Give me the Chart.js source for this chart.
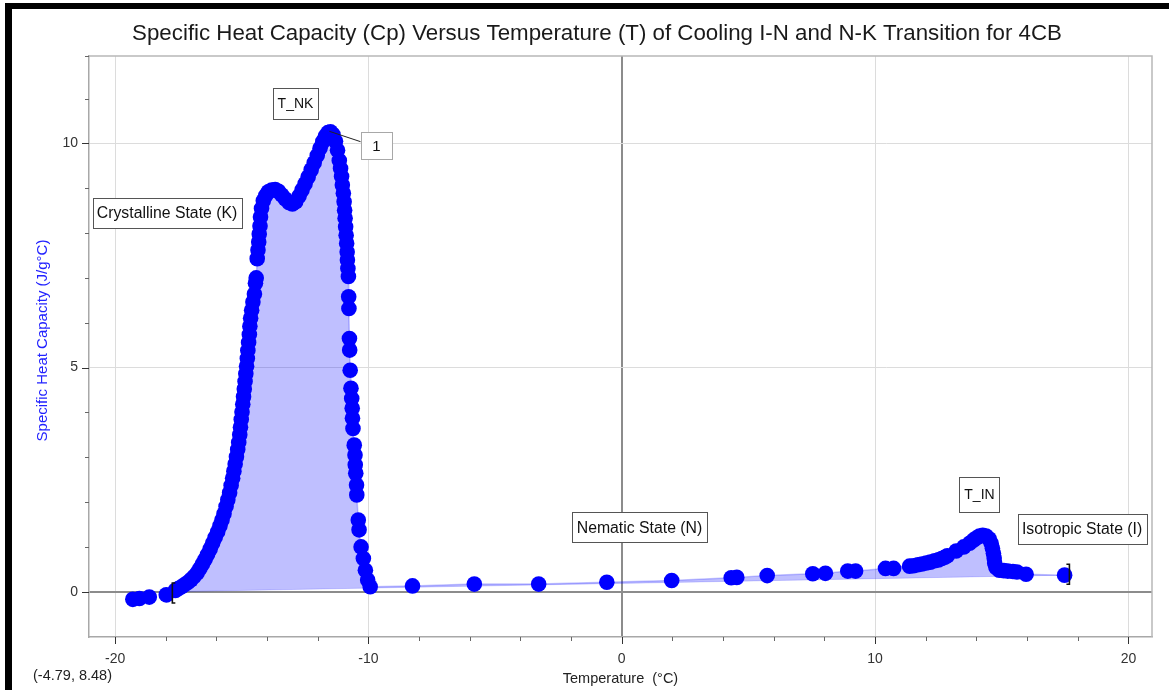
<!DOCTYPE html>
<html>
<head>
<meta charset="utf-8">
<script src="https://cdn.jsdelivr.net/npm/chart.js@4.4.1/dist/chart.umd.min.js"></script>
<style>
html,body{margin:0;padding:0;background:#fff;}
#wrap{position:relative;width:1169px;height:690px;}
canvas{display:block;}
</style>
</head>
<body>
<div id="wrap"><canvas id="c" width="1169" height="690"></canvas></div>
<script>
// ---- data (Temperature °C, Cp J/g°C) ----
const tempC = [
  -19.30,-19.04,-18.65,-17.98,
  -17.62,-17.50,-17.38,-17.25,-17.12,-17.00,-16.88,-16.76,-16.65,-16.55,-16.45,-16.35,-16.25,-16.15,-16.05,-15.95,
  -15.86,-15.78,-15.70,-15.62,-15.55,-15.48,-15.42,-15.36,-15.31,-15.26,-15.21,-15.16,-15.12,-15.08,-15.05,-15.02,
  -14.99,-14.96,-14.93,-14.90,-14.87,-14.84,-14.81,-14.78,-14.76,-14.73,-14.70,-14.68,-14.65,-14.61,-14.56,-14.50,
  -14.46,-14.43,-14.39,-14.36,-14.33,-14.31,-14.28,-14.26,-14.22,-14.15,-14.05,-13.95,-13.82,-13.68,-13.55,-13.42,
  -13.28,-13.14,-13.00,-12.87,-12.74,-12.62,-12.50,-12.38,-12.26,-12.14,-12.02,-11.91,-11.80,-11.70,-11.60,-11.50,
  -11.40,-11.30,-11.22,-11.15,-11.10,-11.06,-11.03,-10.99,-10.96,-10.94,-10.92,-10.90,-10.88,-10.86,-10.84,-10.83,
  -10.81,-10.79,-10.78,-10.77,-10.75,-10.74,-10.72,-10.69,-10.66,-10.64,-10.63,-10.61,-10.56,-10.53,-10.52,-10.50,
  -10.47,-10.46,-10.40,-10.37,-10.29,-10.20,-10.12,-10.03,-9.93,
  -8.26,-5.82,-3.28,-0.59,1.97,4.32,4.54,5.74,7.54,8.04,8.92,9.23,10.41,10.73,
  11.36,11.52,11.69,11.85,12.02,12.18,12.35,12.50,12.63,12.75,12.85,13.20,13.50,13.73,13.88,14.00,14.12,14.25,
  14.38,14.50,14.58,14.63,14.67,14.70,14.72,14.77,14.90,15.08,15.24,15.44,15.60,15.96,17.48
];
const cpJ = [
  -0.17,-0.15,-0.12,-0.07,
  0.03,0.07,0.11,0.16,0.21,0.27,0.34,0.42,0.52,0.62,0.72,0.83,0.95,1.08,1.21,1.34,
  1.47,1.60,1.74,1.90,2.05,2.21,2.37,2.53,2.69,2.85,3.01,3.17,3.33,3.50,3.67,3.84,
  4.01,4.18,4.35,4.52,4.69,4.86,5.03,5.20,5.38,5.56,5.74,5.92,6.10,6.28,6.46,6.64,
  6.88,7.00,7.43,7.62,7.80,7.98,8.16,8.36,8.55,8.72,8.84,8.92,8.96,8.97,8.93,8.85,
  8.76,8.68,8.65,8.70,8.82,8.96,9.10,9.25,9.41,9.57,9.73,9.89,10.04,10.16,10.24,10.26,
  10.20,10.05,9.85,9.62,9.44,9.26,9.07,8.89,8.70,8.51,8.33,8.14,7.95,7.77,7.58,7.40,
  7.21,7.03,6.58,6.32,5.65,5.39,4.94,4.54,4.31,4.09,3.87,3.64,3.27,3.05,2.83,2.64,
  2.38,2.16,1.60,1.38,1.00,0.74,0.48,0.26,0.11,
  0.13,0.17,0.17,0.21,0.25,0.31,0.32,0.36,0.40,0.41,0.46,0.46,0.52,0.52,
  0.57,0.58,0.60,0.62,0.64,0.66,0.69,0.71,0.74,0.77,0.80,0.91,1.00,1.08,1.15,1.20,1.24,1.26,
  1.24,1.18,1.08,0.97,0.86,0.75,0.64,0.54,0.48,0.47,0.46,0.45,0.44,0.39,0.37
];
// integral region (between the brackets) and its straight baseline
const integralRangeT = [-17.74, 17.48];
const baselineT = [-17.74, 17.50];
const baselineCp = [0.00, 0.37];
const bracketT = [-17.74, 17.67];
const bracketCp = [-0.03, 0.39];
// text labels placed in data coordinates
const noteText = ["T_NK", "1", "Crystalline State (K)", "Nematic State (N)", "T_IN", "Isotropic State (I)"];
const noteT = [-12.88, -9.68, -17.95, 0.70, 14.12, 18.17];
const noteCp = [10.89, 9.95, 8.45, 1.44, 2.17, 1.40];
const leaderFromT = -11.54, leaderFromCp = 10.27;
const readout = "(-4.79, 8.48)";
const titleText = "Specific Heat Capacity (Cp) Versus Temperature (T) of Cooling I-N and N-K Transition for 4CB";
const yTitleText = "Specific Heat Capacity (J/g°C)";
const xTitleText = "Temperature  (°C)";

// box styling per note (font size, horizontal padding, height)
const noteFont = [14, 15, 15.8, 15.8, 14, 15.8];
const notePadX = [4.5, 11.5, 4.5, 4.5, 5, 4.5];
const noteBoxH = [31, 27, 30, 30, 35, 30];

// ---- build datasets from arrays ----
const allPts = tempC.map((t, i) => ({x: t, y: cpJ[i]}));
const integralPts = allPts.filter(p => p.x >= integralRangeT[0] && p.x <= integralRangeT[1]);
const basePts = baselineT.map((t, i) => ({x: t, y: baselineCp[i]}));

const FONT = "'Liberation Sans', Arial, Helvetica, sans-serif";

const decor = {
  id: 'decor',
  beforeDraw(chart) {
    const c = chart.ctx;
    c.save(); c.fillStyle = '#fff'; c.fillRect(0, 0, chart.width, chart.height); c.restore();
  },
  afterDraw(chart) {
    const c = chart.ctx, a = chart.chartArea, xs = chart.scales.x, ys = chart.scales.y;
    c.save();
    // top / right frame
    c.strokeStyle = '#b8b8b8'; c.lineWidth = 1.5;
    c.beginPath(); c.moveTo(a.left, a.top); c.lineTo(a.right, a.top); c.lineTo(a.right, a.bottom); c.stroke();
    // tick marks
    c.lineWidth = 1;
    xs.ticks.forEach(t => {
      if (t.value < xs.min || t.value > xs.max) return;
      const px = Math.round(xs.getPixelForValue(t.value)) + 0.5;
      const major = t.value % 10 === 0;
      c.strokeStyle = major ? '#333' : '#666';
      c.beginPath(); c.moveTo(px, a.bottom); c.lineTo(px, a.bottom + (major ? 7 : 4)); c.stroke();
    });
    ys.ticks.forEach(t => {
      if (t.value <= ys.min || t.value > ys.max) return;
      const py = Math.round(ys.getPixelForValue(t.value)) + 0.5;
      const major = t.value % 5 === 0;
      c.strokeStyle = major ? '#333' : '#666';
      c.beginPath(); c.moveTo(a.left, py); c.lineTo(a.left - (major ? 7 : 4), py); c.stroke();
    });
    // brackets
    c.strokeStyle = '#111'; c.lineWidth = 1.6;
    bracketT.forEach((t, i) => {
      const px = xs.getPixelForValue(t), py = ys.getPixelForValue(bracketCp[i]);
      const dir = i === 0 ? 1 : -1;
      c.beginPath();
      c.moveTo(px + dir * 3, py - 10); c.lineTo(px, py - 10); c.lineTo(px, py + 10); c.lineTo(px + dir * 3, py + 10);
      c.stroke();
    });
    // leader line for "1"
    const bx = xs.getPixelForValue(noteT[1]), by = ys.getPixelForValue(noteCp[1]);
    c.strokeStyle = '#222'; c.lineWidth = 1;
    c.beginPath(); c.moveTo(xs.getPixelForValue(leaderFromT), ys.getPixelForValue(leaderFromCp));
    c.lineTo(bx - 16, by - 4); c.stroke();
    // annotation boxes
    c.textAlign = 'center'; c.textBaseline = 'middle';
    noteText.forEach((s, i) => {
      c.font = noteFont[i] + 'px ' + FONT;
      const px = xs.getPixelForValue(noteT[i]), py = ys.getPixelForValue(noteCp[i]);
      const w = Math.round(c.measureText(s).width + 2 * notePadX[i]);
      const h = noteBoxH[i];
      const x0 = Math.round(px - w / 2) + 0.5, y0 = Math.round(py - h / 2) + 0.5;
      c.fillStyle = '#fff'; c.fillRect(x0, y0, w, h);
      c.strokeStyle = s === '1' ? '#a8a8a8' : '#555'; c.lineWidth = 1;
      c.strokeRect(x0, y0, w, h);
      c.fillStyle = '#111'; c.fillText(s, px, py + 1);
    });
    // y axis title
    c.save();
    c.translate(43, (a.top + a.bottom) / 2 - 6);
    c.rotate(-Math.PI / 2);
    c.font = '15px ' + FONT; c.fillStyle = '#2222ff'; c.textAlign = 'center'; c.textBaseline = 'middle';
    c.fillText(yTitleText, 0, 0);
    c.restore();
    // coordinate readout
    c.font = '14.5px ' + FONT; c.textAlign = 'left'; c.textBaseline = 'middle'; c.fillStyle = '#222';
    c.fillText(readout, 33, 676);
    // title
    c.font = '22.3px ' + FONT; c.textAlign = 'center'; c.fillStyle = '#1a1a1a';
    c.fillText(titleText, 597, 34);
    // black border of the screenshot
    c.fillStyle = '#000';
    c.fillRect(5, 3, chart.width - 5, 6);
    c.fillRect(5, 3, 7, chart.height - 3);
    c.restore();
  }
};

new Chart(document.getElementById('c'), {
  type: 'scatter',
  data: {
    datasets: [
      {
        label: 'Cp',
        data: allPts,
        pointRadius: 7.8,
        pointHoverRadius: 7.8,
        pointBackgroundColor: '#0000ff',
        pointBorderWidth: 0,
        showLine: false,
        order: 0
      },
      {
        type: 'line',
        label: 'integral',
        data: integralPts,
        borderColor: 'rgba(0,0,255,0.22)',
        borderWidth: 1.5,
        pointRadius: 0,
        tension: 0,
        fill: 2,
        backgroundColor: 'rgba(0,0,255,0.25)',
        order: 1
      },
      {
        type: 'line',
        label: 'baseline',
        data: basePts,
        borderColor: 'rgba(0,0,255,0.15)',
        borderWidth: 1,
        pointRadius: 0,
        fill: false,
        order: 2
      }
    ]
  },
  options: {
    responsive: false,
    animation: false,
    devicePixelRatio: 1,
    layout: {padding: {top: 56, right: 17, bottom: 0, left: 0}},
    plugins: {legend: {display: false}, tooltip: {enabled: false}, title: {display: false}},
    scales: {
      x: {
        type: 'linear',
        min: -21.03, max: 20.93,
        afterFit(s) { s.height = 53; },
        ticks: {
          stepSize: 2, includeBounds: false, autoSkip: false, maxRotation: 0, padding: 14,
          color: '#333', font: {family: FONT, size: 14},
          callback: v => (v % 10 === 0 ? String(v) : '')
        },
        grid: {
          drawTicks: false,
          color: ctx => ctx.tick && ctx.tick.value === 0 ? '#8c8c8c' : (ctx.tick && ctx.tick.value % 10 === 0 ? '#dcdcdc' : 'rgba(0,0,0,0)'),
          lineWidth: ctx => ctx.tick && ctx.tick.value === 0 ? 2 : 1
        },
        border: {display: true, color: '#a8a8a8', width: 1.5},
        title: {display: true, text: xTitleText, color: '#222', font: {family: FONT, size: 14.5}, padding: {top: 0, bottom: 2}}
      },
      y: {
        type: 'linear',
        min: -1.01, max: 11.95,
        afterFit(s) { s.width = 89; },
        ticks: {
          stepSize: 1, autoSkip: false, padding: 11,
          color: '#333', font: {family: FONT, size: 14},
          callback: v => (v % 5 === 0 && v >= 0 ? String(v) : '')
        },
        grid: {
          drawTicks: false,
          color: ctx => ctx.tick && ctx.tick.value === 0 ? '#8c8c8c' : (ctx.tick && ctx.tick.value % 5 === 0 && ctx.tick.value > 0 ? '#dcdcdc' : 'rgba(0,0,0,0)'),
          lineWidth: ctx => ctx.tick && ctx.tick.value === 0 ? 2 : 1
        },
        border: {display: true, color: '#a8a8a8', width: 1.5},
        title: {display: false}
      }
    }
  },
  plugins: [decor]
});
</script>
</body>
</html>
